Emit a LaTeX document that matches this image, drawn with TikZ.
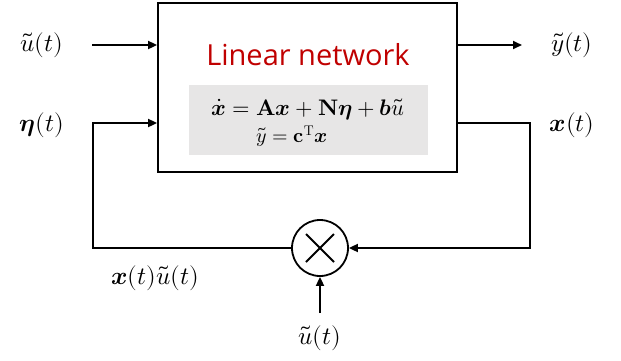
\documentclass[tikz,border=0pt]{standalone}
\usepackage{amsmath}
\usepackage{fontspec}
\usepackage{unicode-math}
\setmathfont{Latin Modern Math}
\newfontfamily\titlefont{Open Sans}
\usetikzlibrary{arrows.meta}
\definecolor{netred}{HTML}{C00000}
\definecolor{eqgray}{HTML}{E7E6E6}
\tikzset{
  wire/.style={line width=1.8pt},
  arr/.style={wire,-{Triangle[length=9pt,width=8pt]}},
  lbl/.style={inner sep=0pt,font=\fontsize{25}{29}\selectfont},
}
\begin{document}
\begin{tikzpicture}[x=1pt,y=-1pt]
\useasboundingbox (0,0) rectangle (621,360);
\node[draw,wire,minimum width=299pt,minimum height=169pt,inner sep=0pt] (net) at (307.5,87.5) {};
\node[fill=eqgray,minimum width=239pt,minimum height=70pt,inner sep=0pt] (eqbox) at (308.5,120) {};
\node[text=netred,inner sep=0pt,font=\titlefont\fontsize{29}{33}\selectfont] (title) at (308,55) {Linear network};
\node[lbl,font=\fontsize{22.5}{26}\selectfont] (eq1) at (308,109) {$\dot{\symbfit{x}}=\symbf{A}\symbfit{x}+\symbf{N}\symbfit{\eta}+\symbfit{b}\tilde{u}$};
\node[lbl,font=\fontsize{20}{24}\selectfont] (eq2) at (292,136) {$\tilde{y}=\symbf{c}^{\mathrm{T}}\symbfit{x}$};
\node[draw,wire,circle,minimum size=56pt,inner sep=0pt] (mul) at (320,248) {};
\draw[wire] (mul.center) ++(-14,-14) -- ++(28,28);
\draw[wire] (mul.center) ++(-14,14) -- ++(28,-28);
\node[lbl] (uin) at (42,45) {$\tilde{u}(t)$};
\node[lbl] (eta) at (42,125) {$\symbfit{\eta}(t)$};
\node[lbl] (yout) at (572,45) {$\tilde{y}(t)$};
\node[lbl] (xout) at (572,125) {$\symbfit{x}(t)$};
\node[lbl] (xu) at (155,278) {$\symbfit{x}(t)\tilde{u}(t)$};
\node[lbl] (ubot) at (320,338) {$\tilde{u}(t)$};
\coordinate (a1) at (92,45);
\coordinate (y1) at (522,45);
\coordinate (c1) at (93,248);
\coordinate (c2) at (93,123);
\coordinate (r1) at (530,123);
\coordinate (r2) at (530,248);
\coordinate (b1) at (320,313);
\draw[arr] (a1) -- (a1 -| net.west);
\draw[arr] (y1 -| net.east) -- (y1);
\draw[arr] (mul.west) -- (c1) -- (c2) -- (c2 -| net.west);
\draw[arr] (r1 -| net.east) -- (r1) -- (r2) -- (mul.east);
\draw[arr] (b1) -- (mul.south);
\end{tikzpicture}
\end{document}
